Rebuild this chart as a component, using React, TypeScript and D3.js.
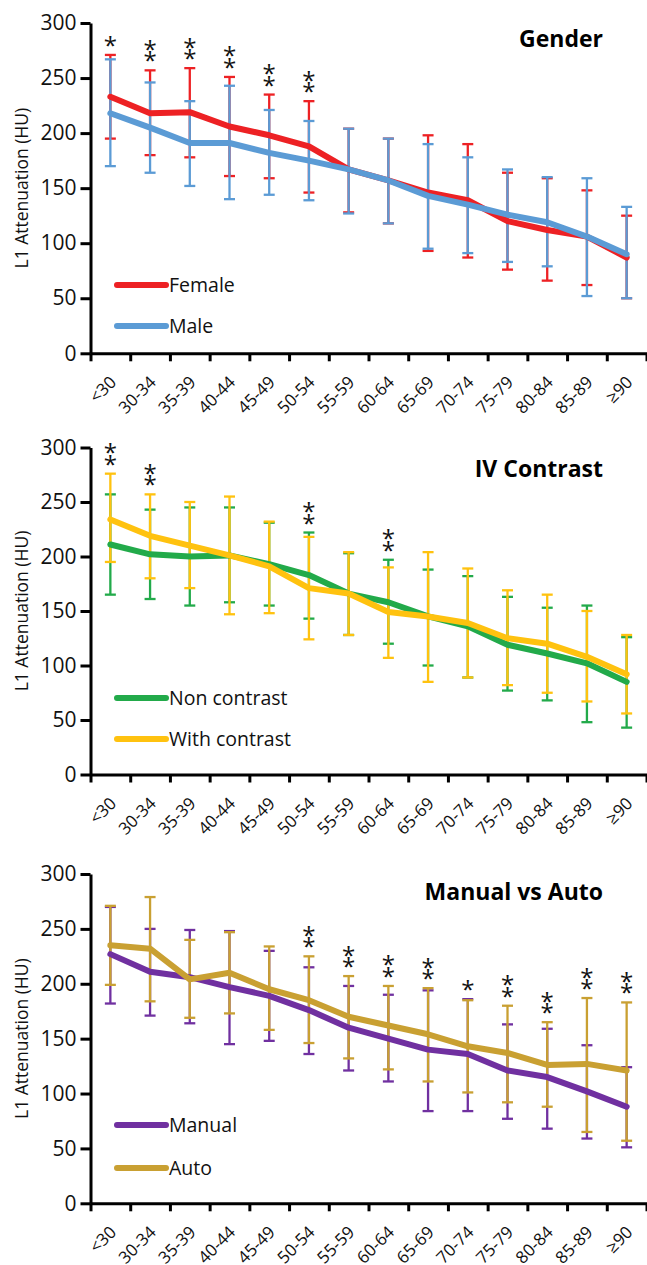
import React, { useEffect, useRef } from "react";
import * as d3 from "d3";

const ageGroups = ["<30", "30-34", "35-39", "40-44", "45-49", "50-54", "55-59", "60-64", "65-69", "70-74", "75-79", "80-84", "85-89", "≥90"];
const yTicks = [0, 50, 100, 150, 200, 250, 300];

// Gender
const femaleMean = [233, 218, 219, 206, 198, 188, 167, 157, 146, 139, 120, 112, 106, 87];
const femaleHigh = [271, 257, 259, 251, 235, 229, 204, 195, 198, 190, 164, 159, 148, 125];
const femaleLow = [195, 180, 178, 161, 159, 146, 128, 118, 93, 87, 76, 66, 62, 50];
const maleMean = [218, 205, 191, 191, 182, 175, 167, 157, 143, 135, 126, 119, 106, 90];
const maleHigh = [267, 246, 229, 243, 221, 211, 204, 195, 190, 178, 167, 160, 159, 133];
const maleLow = [170, 164, 152, 140, 144, 139, 127, 118, 95, 91, 83, 79, 52, 50];
const genderStars = [1, 2, 2, 2, 2, 2, 0, 0, 0, 0, 0, 0, 0, 0];

// IV contrast
const nonMean = [211, 202, 200, 201, 193, 183, 166, 158, 145, 136, 119, 111, 102, 85];
const nonHigh = [257, 243, 245, 245, 231, 222, 203, 197, 188, 182, 163, 153, 155, 126];
const nonLow = [165, 161, 155, 158, 155, 143, 128, 120, 100, 89, 77, 68, 48, 43];
const withMean = [234, 219, 210, 201, 191, 171, 166, 149, 145, 139, 125, 120, 108, 92];
const withHigh = [276, 257, 250, 255, 232, 218, 204, 190, 204, 189, 169, 165, 150, 128];
const withLow = [195, 180, 171, 147, 148, 124, 128, 107, 85, 89, 82, 75, 67, 56];
const contrastStars = [2, 2, 0, 0, 0, 2, 0, 2, 0, 0, 0, 0, 0, 0];

// Manual vs auto
const manualMean = [227, 211, 206, 197, 189, 176, 160, 150, 140, 136, 121, 115, 102, 88];
const manualHigh = [270, 250, 249, 248, 230, 215, 198, 190, 194, 186, 163, 159, 144, 124];
const manualLow = [182, 171, 164, 145, 148, 136, 121, 111, 84, 84, 77, 68, 59, 51];
const autoMean = [235, 232, 204, 210, 195, 185, 170, 162, 154, 143, 137, 126, 127, 121];
const autoHigh = [271, 279, 240, 247, 234, 225, 207, 198, 196, 185, 180, 165, 187, 183];
const autoLow = [199, 184, 169, 173, 158, 146, 132, 122, 111, 101, 92, 88, 65, 57];
const autoStars = [0, 0, 0, 0, 0, 2, 2, 2, 2, 1, 2, 2, 2, 2];

const panels = [
  {
    title: "Gender",
    names: ["Female", "Male"],
    colors: ["#ED2124", "#5B9BD5"],
    means: [femaleMean, maleMean],
    highs: [femaleHigh, maleHigh],
    lows: [femaleLow, maleLow],
    stars: genderStars,
  },
  {
    title: "IV Contrast",
    names: ["Non contrast", "With contrast"],
    colors: ["#22AA4A", "#FFC20F"],
    means: [nonMean, withMean],
    highs: [nonHigh, withHigh],
    lows: [nonLow, withLow],
    stars: contrastStars,
  },
  {
    title: "Manual vs Auto",
    names: ["Manual", "Auto"],
    colors: ["#7030A0", "#C9A032"],
    means: [manualMean, autoMean],
    highs: [manualHigh, autoHigh],
    lows: [manualLow, autoLow],
    stars: autoStars,
  },
];

// where each panel sits on the page
const layout = [
  { zeroY: 353.3, topY: 23, titleY: 47, legendY: [285, 326] },
  { zeroY: 774.5, topY: 447.5, titleY: 477, legendY: [698, 739] },
  { zeroY: 1203.3, topY: 874, titleY: 900, legendY: [1125, 1168] },
];

const W = 647, H = 1265;
const axisX = 90.5, rightX = 646.5;
const FONT = "'Open Sans', 'Noto Sans', sans-serif";

function drawPanel(svg, p, lay) {
  const x = d3.scaleBand().domain(ageGroups).range([axisX, rightX]);
  const xEdge = d3.scaleLinear().domain([0, ageGroups.length]).range([axisX, rightX]);
  const y = d3.scaleLinear().domain([0, 300]).range([lay.zeroY, lay.topY]);
  const cx = (d) => x(d) + x.bandwidth() / 2;

  const g = svg.append("g");

  // error bars (first series below, second on top)
  const capW = 11;
  p.means.forEach((_, s) => {
    const eb = g.append("g").attr("stroke", p.colors[s]).attr("stroke-width", 2.3);
    ageGroups.forEach((a, i) => {
      const xx = cx(a);
      eb.append("line").attr("x1", xx).attr("x2", xx).attr("y1", y(p.lows[s][i])).attr("y2", y(p.highs[s][i]));
      [p.lows[s][i], p.highs[s][i]].forEach((v) => {
        eb.append("line").attr("x1", xx - capW / 2).attr("x2", xx + capW / 2).attr("y1", y(v)).attr("y2", y(v));
      });
    });
  });

  // mean lines
  const line = d3.line().x((d) => cx(d[0])).y((d) => y(d[1]));
  p.means.forEach((m, s) => {
    g.append("path")
      .datum(ageGroups.map((a, i) => [a, m[i]]))
      .attr("d", line)
      .attr("fill", "none")
      .attr("stroke", p.colors[s])
      .attr("stroke-width", 6)
      .attr("stroke-linejoin", "round")
      .attr("stroke-linecap", "round");
  });

  // significance stars
  ageGroups.forEach((a, i) => {
    const top = Math.max(p.highs[0][i], p.highs[1][i]);
    for (let k = 0; k < p.stars[i]; k++) {
      g.append("text")
        .attr("x", cx(a))
        .attr("y", y(top) - 14 - k * 11.5 + 13)
        .attr("text-anchor", "middle")
        .attr("font-family", FONT)
        .attr("font-size", 24)
        .attr("fill", "#111")
        .text("*");
    }
  });

  // y axis
  const yAxis = g.append("g")
    .attr("transform", `translate(${axisX},0)`)
    .call(d3.axisLeft(y).tickValues(yTicks).tickSize(10).tickSizeOuter(0).tickPadding(4));
  yAxis.select(".domain").attr("stroke", "#000").attr("stroke-width", 3);
  yAxis.selectAll(".tick line").attr("stroke", "#000").attr("stroke-width", 3);
  yAxis.selectAll(".tick text").attr("font-family", FONT).attr("font-size", 21).attr("fill", "#111");

  // x axis: ticks on band edges
  const xAxis = g.append("g")
    .attr("transform", `translate(0,${lay.zeroY})`)
    .call(d3.axisBottom(xEdge).tickValues(d3.range(ageGroups.length + 1)).tickSize(8).tickSizeOuter(0).tickFormat(() => ""));
  xAxis.select(".domain").attr("stroke", "#000").attr("stroke-width", 3);
  xAxis.selectAll(".tick line").attr("stroke", "#000").attr("stroke-width", 3);

  const xLabels = g.append("g")
    .attr("transform", `translate(0,${lay.zeroY})`)
    .call(d3.axisBottom(x).tickSize(0).tickPadding(0));
  xLabels.select(".domain").remove();
  xLabels.selectAll(".tick text")
    .attr("y", 0)
    .attr("dy", 0)
    .attr("transform", "translate(7,30) rotate(-45)")
    .attr("text-anchor", "end")
    .attr("font-family", FONT)
    .attr("font-size", 17)
    .attr("fill", "#111");

  // y label
  g.append("text")
    .attr("transform", `translate(28,${(lay.zeroY + lay.topY) / 2}) rotate(-90)`)
    .attr("text-anchor", "middle")
    .attr("font-family", FONT)
    .attr("font-size", 17.5)
    .attr("fill", "#111")
    .text("L1 Attenuation (HU)");

  // title
  g.append("text")
    .attr("x", 603)
    .attr("y", lay.titleY)
    .attr("text-anchor", "end")
    .attr("font-family", FONT)
    .attr("font-weight", "bold")
    .attr("font-size", 23)
    .attr("fill", "#000")
    .text(p.title);

  // legend
  p.names.forEach((n, s) => {
    const ly = lay.legendY[s];
    g.append("line")
      .attr("x1", 117).attr("x2", 166)
      .attr("y1", ly).attr("y2", ly)
      .attr("stroke", p.colors[s])
      .attr("stroke-width", 6)
      .attr("stroke-linecap", "round");
    g.append("text")
      .attr("x", 169)
      .attr("y", ly)
      .attr("dy", "0.36em")
      .attr("font-family", FONT)
      .attr("font-size", 19.5)
      .attr("fill", "#111")
      .text(n);
  });
}

export default function App() {
  const ref = useRef(null);

  useEffect(() => {
    const svg = d3.select(ref.current);
    svg.selectAll("*").remove();
    panels.forEach((p, i) => drawPanel(svg, p, layout[i]));
  }, []);

  return (
    <div style={{ position: "absolute", left: 0, top: 0, background: "#fff" }}>
      <svg ref={ref} width={W} height={H} style={{ display: "block" }} />
    </div>
  );
}
